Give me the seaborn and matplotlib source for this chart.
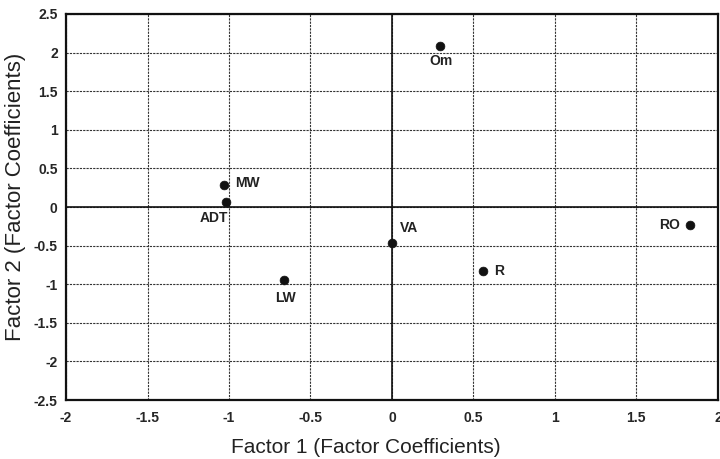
import matplotlib
matplotlib.use("Agg")
import matplotlib.pyplot as plt
import seaborn as sns
import pandas as pd

# Factor loadings of the variables
labels = ["Om", "MW", "ADT", "VA", "LW", "R", "RO"]
factor1 = [0.295, -1.03, -1.02, 0.0, -0.66, 0.56, 1.83]
factor2 = [2.09, 0.28, 0.07, -0.47, -0.94, -0.83, -0.23]

x_ticks = [-2, -1.5, -1, -0.5, 0, 0.5, 1, 1.5, 2]
y_ticks = [-2.5, -2, -1.5, -1, -0.5, 0, 0.5, 1, 1.5, 2, 2.5]

df = pd.DataFrame({"label": labels, "f1": factor1, "f2": factor2})

sns.set_style("white")
plt.rcParams["font.family"] = ["Liberation Sans", "DejaVu Sans"]

fig = plt.figure(figsize=(7.2, 4.59), dpi=100)
ax = fig.add_axes([0.0917, 0.1285, 0.9053, 0.841])

sns.scatterplot(data=df, x="f1", y="f2", ax=ax, color="#111111", s=40,
                edgecolor="#111111", linewidth=0.5, zorder=5, legend=False)

# label placement (offset in points, alignment)
place = {
    "Om": ((1, -6), "center", "top"),
    "MW": ((8, 2), "left", "center"),
    "ADT": ((2, -7), "right", "top"),
    "VA": ((6, 6), "left", "bottom"),
    "LW": ((1, -8), "center", "top"),
    "R": ((8, 0), "left", "center"),
    "RO": ((-7, 0), "right", "center"),
}
for lab, x, y in zip(labels, factor1, factor2):
    (dx, dy), ha, va = place[lab]
    ax.annotate(lab, (x, y), xytext=(dx, dy), textcoords="offset points",
                ha=ha, va=va, fontsize=10, fontweight="bold", color="#222222")

ax.set_xlim(-2, 2)
ax.set_ylim(-2.5, 2.5)
ax.set_xticks(x_ticks)
ax.set_yticks(y_ticks)
ax.set_xticklabels([f"{t:g}" for t in x_ticks], fontsize=10, fontweight="bold")
ax.set_yticklabels([f"{t:g}" for t in y_ticks], fontsize=10, fontweight="bold")
ax.tick_params(axis="x", length=0, pad=8)
ax.tick_params(axis="y", length=0, pad=6)

ax.grid(True, color="#333333", linestyle=(0, (2, 1)), linewidth=0.8)
ax.axhline(0, color="#111111", linewidth=1.2, zorder=3)
ax.axvline(0, color="#111111", linewidth=1.2, zorder=3)
for sp in ax.spines.values():
    sp.set_visible(True)
    sp.set_color("#111111")
    sp.set_linewidth(1.6)

ax.set_xlabel("Factor 1 (Factor Coefficients)", fontsize=15, color="#222222")
ax.set_ylabel("Factor 2 (Factor Coefficients)", fontsize=16, color="#222222")
ax.xaxis.label.set_va("center")
ax.yaxis.label.set_va("center")
ax.xaxis.set_label_coords(0.46, -0.122)
ax.yaxis.set_label_coords(-0.078, 0.525)

fig.savefig("out.png", dpi=100)
